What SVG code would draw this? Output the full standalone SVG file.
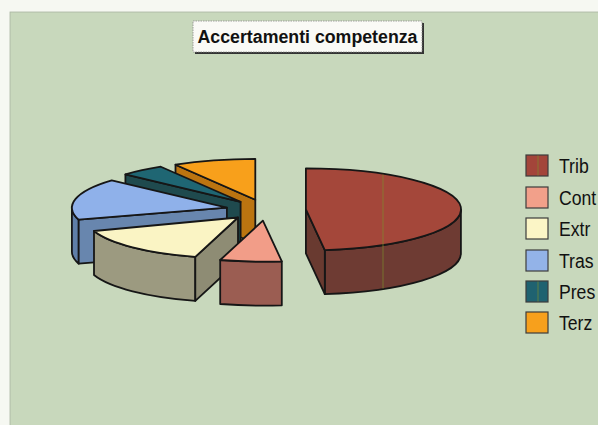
<svg xmlns="http://www.w3.org/2000/svg" width="598" height="425" viewBox="0 0 598 425">
<style>
.e{stroke:#161616;stroke-width:1.8;stroke-linejoin:round}
.sw{stroke:#3c3c3c;stroke-width:1.2}
.lt{font-family:"Liberation Sans",Arial,sans-serif;font-size:21px;fill:#111}
.art{stroke:#7f8f2c;stroke-width:1.1;opacity:0.6}
</style>
<rect x="0" y="0" width="598" height="425" fill="#f6f8f2"/>
<rect x="10" y="12" width="590" height="415" fill="#c8d8bc" stroke="#a9b5a1" stroke-width="0.8"/>
<g id="title">
<rect x="195" y="23" width="229" height="31" fill="#333"/>
<rect x="193" y="21" width="229" height="31" fill="#fafaf6" stroke="#8a8a8a" stroke-width="0.8" stroke-dasharray="1.5 1"/>
<text x="307.5" y="43" text-anchor="middle" font-family="'Liberation Sans',Arial,sans-serif" font-weight="bold" font-size="18" textLength="220" lengthAdjust="spacingAndGlyphs" fill="#111">Accertamenti competenza</text>
</g>
<g id="slice-terz">
<path class="e" fill="#bb7410" d="M255.3 199.8 L175.5 164.7 L175.5 208.7 L255.3 243.8 Z"/>
<path class="e" fill="#f8a01b" d="M255.3 199.8 L255.3 158.8 A155 41 0 0 0 175.5 164.7 Z"/>
</g>
<g id="slice-pres">
<path class="e" fill="#1f4a4e" d="M240.6 201.8 L125.4 174.4 L125.4 218.4 L240.6 245.8 Z"/>
<path class="e" fill="#1f6673" d="M240.6 201.8 L160.8 166.7 A155 41 0 0 0 125.4 174.4 Z"/>
</g>
<g id="slice-tras">
<path class="e" fill="#5f7fa8" d="M71.9 207.7 A155 41 0 0 0 78.7 219.7 L78.7 263.7 A155 41 0 0 1 71.9 251.7 Z"/>
<path class="e" fill="#6886ae" d="M226.9 207.7 L78.7 219.7 L78.7 263.7 L226.9 251.7 Z"/>
<path class="e" fill="#8fb1ea" d="M226.9 207.7 L111.7 180.3 A155 41 0 0 0 78.7 219.7 Z"/>
</g>
<g id="slice-extr">
<path class="e" fill="#9c9a80" d="M94 231 A150 40 0 0 0 195.3 256.9 L195.3 300.9 A150 40 0 0 1 94 275 Z"/>
<path class="e" fill="#8e8c74" d="M238 217.5 L195.3 256.9 L195.3 300.9 L238 261.5 Z"/>
<path class="e" fill="#faf4c4" d="M238 217.5 L94 231 A150 40 0 0 0 195.3 256.9 Z"/>
</g>
<g id="slice-cont">
<path class="e" fill="#9b5d52" d="M220.2 260 A155 41 0 0 0 281.8 261.3 L281.8 305.3 A155 41 0 0 1 220.2 304 Z"/>
<path class="e" fill="#f29d88" d="M262.9 220.6 L220.2 260 A155 41 0 0 0 281.8 261.3 Z"/>
</g>
<g id="slice-trib">
<path class="e" fill="#6e3b33" d="M324.8 250.1 A155 41 0 0 0 460.9 209.4 L460.9 253.4 A155 41 0 0 1 324.8 294.1 Z"/>
<path class="e" fill="#693a30" d="M305.9 209.4 L324.8 250.1 L324.8 294.1 L305.9 253.4 Z"/>
<path class="e" fill="#a4473a" d="M305.9 209.4 L324.8 250.1 A155 41 0 0 0 305.9 168.4 Z"/>
<line class="art" x1="383" y1="174.5" x2="383" y2="288.5"/>
</g>
<g id="legend">
<g id="legend-trib"><rect class="sw" x="526" y="155" width="22" height="21" fill="#a3453a"/><line class="art" x1="538" y1="155.5" x2="538" y2="175.5"/></g>
<g id="legend-cont"><rect class="sw" x="526" y="187" width="22" height="21" fill="#f2a08a"/></g>
<g id="legend-extr"><rect class="sw" x="526" y="218" width="22" height="21" fill="#fbf5c6"/></g>
<g id="legend-tras"><rect class="sw" x="526" y="250" width="22" height="21" fill="#93b3e8"/></g>
<g id="legend-pres"><rect class="sw" x="526" y="281" width="22" height="21" fill="#1f6270"/><line class="art" x1="538" y1="281.5" x2="538" y2="301.5"/></g>
<g id="legend-terz"><rect class="sw" x="526" y="312" width="22" height="21" fill="#f7a01c"/></g>
<g transform="matrix(0.84 0 0 1 89.44 0)">
<text class="lt" x="559" y="173">Trib</text>
<text class="lt" x="559" y="205">Cont</text>
<text class="lt" x="559" y="236">Extr</text>
<text class="lt" x="559" y="268">Tras</text>
<text class="lt" x="559" y="299">Pres</text>
<text class="lt" x="559" y="330">Terz</text>
</g>
</g>
</svg>
